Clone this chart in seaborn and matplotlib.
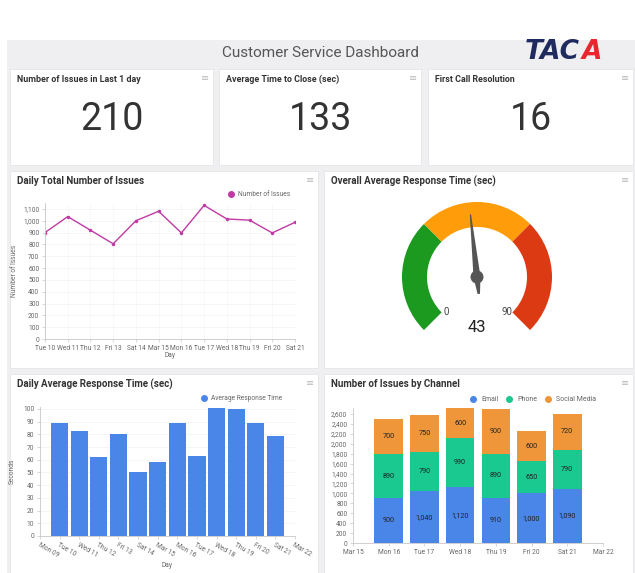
import numpy as np
import pandas as pd
import matplotlib.pyplot as plt
import seaborn as sns
from matplotlib.patches import Rectangle, Wedge, Polygon, Circle
from matplotlib.lines import Line2D

sns.set_style("white")
plt.rcParams['font.family'] = ['Liberation Sans Narrow', 'Roboto', 'DejaVu Sans']

# ---- data ----
kpi_titles = ["Number of Issues in Last 1 day", "Average Time to Close (sec)", "First Call Resolution"]
kpi_values = [210, 133, 16]

line_days = ["Tue 10", "Wed 11", "Thu 12", "Fri 13", "Sat 14", "Mar 15",
             "Mon 16", "Tue 17", "Wed 18", "Thu 19", "Fri 20", "Sat 21"]
line_issues = [900, 1035, 920, 805, 1000, 1080, 897, 1130, 1015, 1005, 897, 987]

gauge_value = 43
gauge_min, gauge_max = 0, 90
gauge_bands = [0, 30, 60, 90]
gauge_colors = ["#1b9a1f", "#ff9c0a", "#dc3a13"]

bar_axis_days = ["Mon 09", "Tue 10", "Wed 11", "Thu 12", "Fri 13", "Sat 14", "Mar 15",
                 "Mon 16", "Tue 17", "Wed 18", "Thu 19", "Fri 20", "Sat 21", "Mar 22"]
bar_days = bar_axis_days[1:-1]
response_secs = [89, 83, 62, 80, 50, 58, 89, 63, 101, 100, 89, 79]

channel_axis_days = ["Mar 15", "Mon 16", "Tue 17", "Wed 18", "Thu 19", "Fri 20", "Sat 21", "Mar 22"]
channel_days = channel_axis_days[1:-1]
email = [900, 1040, 1120, 910, 1000, 1090]
phone = [890, 790, 990, 890, 650, 790]
social = [700, 750, 600, 900, 600, 720]

BLUE = "#4a86e8"
TEAL = "#1ac98f"
ORANGE = "#f0963a"
PURPLE = "#c03aa4"
TXT = "#333333"
TICK = "#666666"

W, H = 635, 573
fig = plt.figure(figsize=(W / 100, H / 100), dpi=100)
fig.patch.set_facecolor("white")


def box(x0, y0, x1, y1):
    return [x0 / W, 1 - y1 / H, (x1 - x0) / W, (y1 - y0) / H]


def card(x0, y0, x1, y1, title, size=7):
    b = box(x0, y0, x1, y1)
    fig.patches.append(Rectangle((b[0], b[1]), b[2], b[3], transform=fig.transFigure,
                                 facecolor="white", edgecolor="#e6e6e6", lw=0.6, zorder=-5))
    fig.text((x0 + 7) / W, 1 - (y0 + 10) / H, title, fontsize=size, color=TXT,
             weight="bold", va="center", ha="left")
    fig.text((x1 - 8) / W, 1 - (y0 + 9) / H, "≡", fontsize=7, color="#bbbbbb",
             va="center", ha="center", family=["DejaVu Sans"])


# dashboard background + header
fig.patches.append(Rectangle((7 / W, 0), 1 - 7 / W, 1 - 40 / H, transform=fig.transFigure,
                             facecolor="#efeff1", edgecolor="none", zorder=-10))
fig.text(320 / W, 1 - 53 / H, "Customer Service Dashboard", fontsize=11, color="#555555",
         ha="center", va="center")
fig.text(525 / W, 1 - 52 / H, "TAC", fontsize=19, color="#1f2a5e", weight="heavy",
         style="italic", ha="left", va="center", family=["DejaVu Sans"])
fig.text(582 / W, 1 - 52 / H, "A", fontsize=19, color="#e8262d", weight="heavy",
         style="italic", ha="left", va="center", family=["DejaVu Sans"])

# KPI cards
kpi_boxes = [(10, 69, 213, 165), (219, 69, 421, 165), (428, 69, 633, 165)]
for (x0, y0, x1, y1), t, v in zip(kpi_boxes, kpi_titles, kpi_values):
    card(x0, y0, x1, y1, t, size=6.4)
    fig.text((x0 + x1) / 2 / W, 1 - 120 / H, str(v), fontsize=27, color=TXT,
             ha="center", va="center")

card(10, 171, 318, 368, "Daily Total Number of Issues")
card(324, 171, 633, 368, "Overall Average Response Time (sec)")
card(10, 374, 318, 573, "Daily Average Response Time (sec)")
card(324, 374, 633, 573, "Number of Issues by Channel")


def style_axes(ax):
    sns.despine(ax=ax)
    for s in ["left", "bottom"]:
        ax.spines[s].set_color("#c8c8c8")
        ax.spines[s].set_linewidth(0.6)
    ax.tick_params(axis="both", labelsize=4.8, labelcolor=TICK, color="#c8c8c8",
                   length=2.5, width=0.5, pad=1.5, left=True, bottom=True)
    ax.grid(axis="y", color="#f1f1f1", lw=0.5)
    ax.set_axisbelow(True)
    ax.set_facecolor("none")


def dot(color, label):
    return Line2D([], [], marker="o", ls="none", color=color, markersize=4, label=label)


# ---- line chart ----
ax1 = fig.add_axes(box(45, 203, 295, 339))
x_pos = np.arange(len(line_days))
sns.lineplot(x=x_pos, y=line_issues, ax=ax1, color=PURPLE, lw=1.0, marker="o",
             markersize=2.5, markeredgewidth=0)
ax1.set_xlim(0, len(line_days) - 1)
ax1.set_ylim(0, 1150)
ax1.set_yticks(range(0, 1101, 100))
ax1.set_yticklabels([f"{v:,}" for v in range(0, 1101, 100)])
ax1.set_xticks(x_pos)
ax1.set_xticklabels(line_days)
style_axes(ax1)
ax1.grid(axis="x", color="#f6f6f6", lw=0.5)
ax1.set_xlabel("Day", fontsize=4.8, color=TICK, labelpad=0)
ax1.set_ylabel("Number of Issues", fontsize=4.8, color=TICK, labelpad=4)
ax1.legend(handles=[dot(PURPLE, "Number of Issues")], loc="lower right",
           bbox_to_anchor=(1.0, 1.0), frameon=False, fontsize=4.8, handletextpad=0.1,
           borderaxespad=0.3, labelcolor=TICK)

# ---- gauge ----
ax2 = fig.add_axes(box(392, 192, 562, 362))
ax2.set_xlim(-85, 85)
ax2.set_ylim(-85, 85)
ax2.set_aspect("equal")
ax2.axis("off")


def val2ang(v):
    return 225 - (v - gauge_min) / (gauge_max - gauge_min) * 270


for lo, hi, c in zip(gauge_bands[:-1], gauge_bands[1:], gauge_colors):
    ax2.add_patch(Wedge((0, 0), 75, val2ang(hi), val2ang(lo), width=25, color=c, lw=0))

a = np.deg2rad(val2ang(gauge_value))
d = np.array([np.cos(a), np.sin(a)])
p = np.array([-np.sin(a), np.cos(a)])
needle = [63 * d + 0.6 * p, 63 * d - 0.6 * p, -3.5 * p, -17 * d - 1.2 * p, -17 * d + 1.2 * p, 3.5 * p]
ax2.add_patch(Polygon(needle, closed=True, color="#555555", lw=0))
ax2.add_patch(Circle((0, 0), 6.5, color="#555555", lw=0))
ax2.text(-31, -35, str(gauge_min), fontsize=7, color="#444444", ha="center", va="center")
ax2.text(30, -35, str(gauge_max), fontsize=7, color="#444444", ha="center", va="center")
ax2.text(0, -51, str(gauge_value), fontsize=12, color="#222222", ha="center", va="center")

# ---- bar chart ----
ax3 = fig.add_axes(box(40, 407, 295, 536))
sns.barplot(x=bar_days, y=response_secs, order=bar_axis_days, color=BLUE, saturation=1,
            width=0.88, lw=0, ax=ax3)
ax3.set_xlim(0, len(bar_axis_days) - 1)
ax3.set_ylim(0, 101.5)
ax3.set_yticks(range(0, 101, 10))
style_axes(ax3)
ax3.set_xticks(range(len(bar_axis_days)))
ax3.set_xticklabels(bar_axis_days, rotation=-30, ha="left", rotation_mode="anchor")
ax3.set_xlabel("Day", fontsize=4.8, color=TICK, labelpad=2)
ax3.set_ylabel("Seconds", fontsize=4.8, color=TICK, labelpad=5)
ax3.legend(handles=[dot(BLUE, "Average Response Time")], loc="lower right",
           bbox_to_anchor=(0.97, 1.0), frameon=False, fontsize=4.8, handletextpad=0.1,
           borderaxespad=0.3, labelcolor=TICK)

# ---- stacked bar chart ----
ax4 = fig.add_axes(box(353, 408, 603, 543))
df = pd.DataFrame({"day": channel_days, "Email": email, "Phone": phone, "Social Media": social})
df["ep"] = df["Email"] + df["Phone"]
df["total"] = df["ep"] + df["Social Media"]
for col, c in [("total", ORANGE), ("ep", TEAL), ("Email", BLUE)]:
    sns.barplot(data=df, x="day", y=col, order=channel_axis_days, color=c, saturation=1,
                width=0.8, lw=0, ax=ax4)
for i, row in df.iterrows():
    xi = channel_axis_days.index(row["day"])
    ax4.text(xi, row["Email"] / 2, f"{row['Email']:,}", fontsize=5.2, color="#222222",
             ha="center", va="center")
    ax4.text(xi, row["Email"] + row["Phone"] / 2, f"{row['Phone']:,}", fontsize=5.2,
             color="#222222", ha="center", va="center")
    ax4.text(xi, row["ep"] + row["Social Media"] / 2, f"{row['Social Media']:,}", fontsize=5.2,
             color="#222222", ha="center", va="center")
ax4.set_xlim(0, len(channel_axis_days) - 1)
ax4.set_ylim(0, 2720)
ax4.set_yticks(range(0, 2601, 200))
ax4.set_yticklabels([f"{v:,}" for v in range(0, 2601, 200)])
style_axes(ax4)
ax4.grid(False)
ax4.set_xticks(range(len(channel_axis_days)))
ax4.set_xticklabels(channel_axis_days)
ax4.set_xlabel("")
ax4.set_ylabel("")
ax4.legend(handles=[dot(BLUE, "Email"), dot(TEAL, "Phone"), dot(ORANGE, "Social Media")],
           loc="lower right", bbox_to_anchor=(0.99, 1.0), ncol=3, frameon=False,
           fontsize=5, handletextpad=0.1, columnspacing=0.6, borderaxespad=0.3,
           labelcolor=TICK)

fig.savefig("out.png", dpi=100)
